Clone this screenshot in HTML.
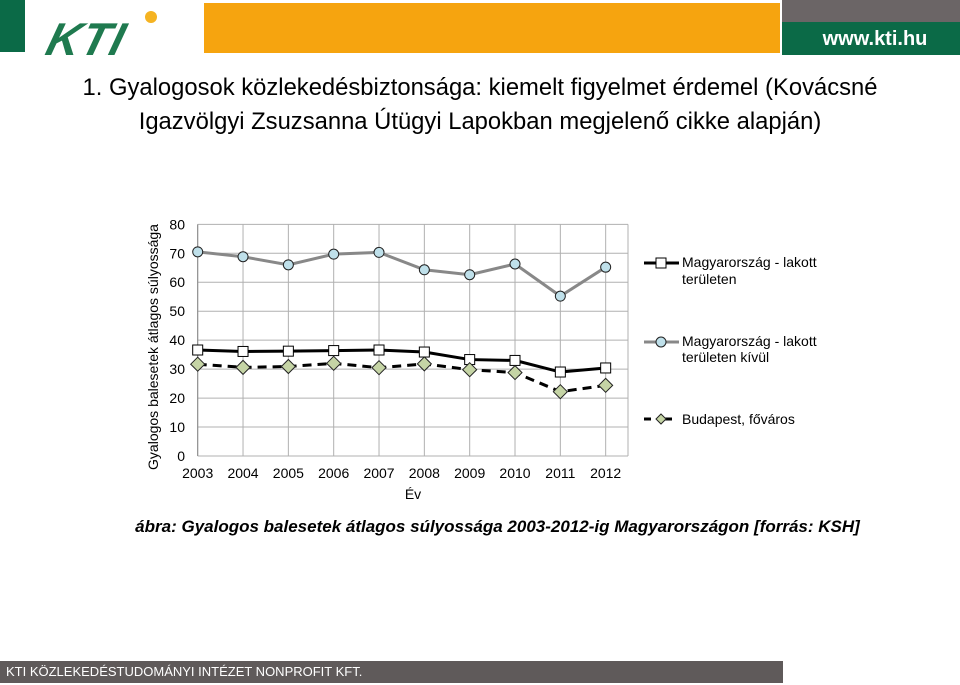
<!DOCTYPE html>
<html><head><meta charset="utf-8"><style>
body{margin:0;width:960px;height:685px;background:#fff;position:relative;overflow:hidden;font-family:"Liberation Sans",sans-serif}
.a{position:absolute}
</style></head><body>
<div class="a" style="left:0;top:0;width:25px;height:52px;background:#0b6a47"></div>
<div class="a" style="left:48px;top:17px;width:120px;height:44px;font:italic bold 46px 'Liberation Sans',sans-serif;color:#1f7a4f;letter-spacing:1px;line-height:44px;transform:skewX(-15deg)">KTI</div>
<div class="a" style="left:145px;top:11px;width:12px;height:12px;border-radius:50%;background:#f5b322"></div>
<div class="a" style="left:204px;top:3px;width:576px;height:50px;background:#f6a40f"></div>
<div class="a" style="left:782px;top:0;width:178px;height:22px;background:#6b6566"></div>
<div class="a" style="left:782px;top:22px;width:178px;height:33px;background:#0b6a47;color:#fff;font:bold 20px 'Liberation Sans',sans-serif;line-height:34px;text-align:center;padding-left:8px;box-sizing:border-box">www.kti.hu</div>
<div class="a" style="left:0;top:71px;width:960px;text-align:center;font-size:23.8px;line-height:34px;color:#000">1. Gyalogosok közlekedésbiztonsága: kiemelt figyelmet érdemel (Kovácsné<br>Igazvölgyi Zsuzsanna Útügyi Lapokban megjelenő cikke alapján)</div>
<svg class="a" style="left:0;top:0" width="960" height="685">
<g id="grid"></g><g id="series"></g><g id="labels"></g>
<text x="158" y="347" transform="rotate(-90 158 347)" text-anchor="middle" font-size="14" font-family="Liberation Sans">Gyalogos balesetek átlagos súlyossága</text>
<text x="413" y="499" text-anchor="middle" font-size="14" font-family="Liberation Sans">Év</text>
<g font-family="Liberation Sans" font-size="14">
<line x1="644" y1="263" x2="679" y2="263" stroke="#000" stroke-width="3"/><rect x="656" y="258" width="10" height="10" fill="#fff" stroke="#000"/>
<text x="682" y="267">Magyarország - lakott</text><text x="682" y="284">területen</text>
<line x1="644" y1="342" x2="679" y2="342" stroke="#888" stroke-width="3"/><circle cx="661" cy="342" r="5" fill="#bfe0ea" stroke="#222"/>
<text x="682" y="346">Magyarország - lakott</text><text x="682" y="362">területen kívül</text>
<line x1="644" y1="419" x2="679" y2="419" stroke="#000" stroke-width="3" stroke-dasharray="7,14"/><path d="M661 414 L666 419 L661 424 L656 419Z" fill="#c5d4a5" stroke="#222"/>
<text x="682" y="424">Budapest, főváros</text>
</g>
</svg>
<div class="a" style="left:0;top:517px;width:995px;text-align:center;font:italic bold 17px 'Liberation Sans',sans-serif">ábra: Gyalogos balesetek átlagos súlyossága 2003-2012-ig Magyarországon [forrás: KSH]</div>
<div class="a" style="left:0;top:661px;width:783px;height:22px;background:#5f5a5a;color:#fff;font-size:13px;line-height:22px;padding-left:6px;box-sizing:border-box">KTI KÖZLEKEDÉSTUDOMÁNYI INTÉZET NONPROFIT KFT.</div>
<script>
const years=["2003","2004","2005","2006","2007","2008","2009","2010","2011","2012"];
const yTicks=[0,10,20,30,40,50,60,70,80];
const lakott=[36.6,36.1,36.2,36.4,36.6,35.9,33.3,33,29,30.4];
const kivul=[70.5,68.8,66,69.7,70.3,64.3,62.6,66.3,55.2,65.2];
const budapest=[31.7,30.6,30.9,32,30.5,31.8,29.8,28.8,22.2,24.4];
const NS="http://www.w3.org/2000/svg";
const X0=197.7,DX=45.33,Y0=456,SY=2.896;
const xs=i=>X0+i*DX, ys=v=>Y0-v*SY;
function mk(t,a,p){const e=document.createElementNS(NS,t);for(const k in a)e.setAttribute(k,a[k]);p.appendChild(e);return e;}
const grid=document.getElementById('grid'),ser=document.getElementById('series'),lab=document.getElementById('labels');
yTicks.forEach(v=>{const l=mk('line',{x1:X0,x2:628,y1:ys(v),y2:ys(v),stroke:'#b0b0b0'},grid);


const t=mk('text',{x:185,y:ys(v)+5,'text-anchor':'end','font-size':14,'font-family':'Liberation Sans'},lab);t.textContent=v;

});
years.forEach((y,i)=>{const l=mk('line',{x1:xs(i),x2:xs(i),y1:ys(80),y2:Y0,stroke:'#b0b0b0'},grid);


const t=mk('text',{x:xs(i),y:478,'text-anchor':'middle','font-size':14,'font-family':'Liberation Sans'},lab);t.textContent=y;

});
mk('line',{x1:628,x2:628,y1:ys(80),y2:Y0,stroke:'#b0b0b0'},grid);
mk('line',{x1:X0,x2:X0,y1:ys(80),y2:Y0,stroke:'#888'},grid);
function line(d,st,extra,name){const p=mk('polyline',Object.assign({points:d.map((v,i)=>xs(i)+','+ys(v)).join(' '),fill:'none',stroke:st,'stroke-width':3},extra),ser);

}
line(kivul,'#888',{},'line-kivul');
line(lakott,'#000',{},'line-lakott');
line(budapest,'#000',{'stroke-dasharray':'9,6'},'line-budapest');
kivul.forEach((v,i)=>{const c=mk('circle',{cx:xs(i),cy:ys(v),r:5,fill:'#bfe0ea',stroke:'#222'},ser);

});
lakott.forEach((v,i)=>{const r=mk('rect',{x:xs(i)-5,y:ys(v)-5,width:10,height:10,fill:'#fff',stroke:'#000'},ser);

});
budapest.forEach((v,i)=>{const x=xs(i),y=ys(v);const p=mk('path',{d:`M${x} ${y-7}L${x+7} ${y}L${x} ${y+7}L${x-7} ${y}Z`,fill:'#c5d4a5',stroke:'#222'},ser);

});
</script>
</body></html>
